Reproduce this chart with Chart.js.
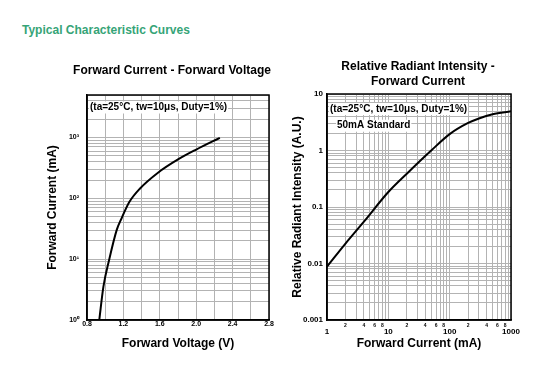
<!DOCTYPE html>
<html><head><meta charset="utf-8">
<script src="https://cdn.jsdelivr.net/npm/chart.js@4.4.1/dist/chart.umd.min.js"></script>
<style>
body{margin:0;background:#fff;width:545px;height:370px;overflow:hidden;position:relative;font-family:'Liberation Sans',Arial,sans-serif}
#h{position:absolute;left:22px;top:23px;font-size:12px;font-weight:bold;color:#36a477;line-height:14px;white-space:nowrap}
#w1{position:absolute;left:0;top:0;width:280px;height:370px}
#w2{position:absolute;left:280px;top:0;width:265px;height:370px}
</style></head><body>
<div id="h">Typical Characteristic Curves</div>
<div id="w1"><canvas id="c1" width="280" height="370"></canvas></div>
<div id="w2"><canvas id="c2" width="265" height="370"></canvas></div>
<script>
// ---- Chart 1: Forward Current vs Forward Voltage ----
const fvVoltage = [0.935, 0.98, 1.045, 1.126, 1.18, 1.265, 1.38, 1.58, 1.80, 2.0, 2.26];
const fvCurrent = [1, 3.5, 10, 30, 47, 87, 144, 264, 436, 634, 990];
const fvXGrid = [0.8, 1.0, 1.2, 1.4, 1.6, 1.8, 2.0, 2.2, 2.4, 2.6, 2.8];
const fvXLabels = ['0.8', '', '1.2', '', '1.6', '', '2.0', '', '2.4', '', '2.8'];
const fvYGrid = [1,2,3,4,5,6,7,8,9,10,20,30,40,50,60,70,80,90,100,200,300,400,500,600,700,800,900,1000,2000,3000,4000,5000];
const fvYLabelValues = [1, 10, 100, 1000];
const fvYLabels = ['10\u2070', '10\u00b9', '10\u00b2', '10\u00b3'];

// ---- Chart 2: Relative Radiant Intensity vs Forward Current ----
const rrCurrent = [1, 2, 4, 10, 20, 50, 100, 200, 300, 500, 1000];
const rrIntensity = [0.0088, 0.0225, 0.055, 0.184, 0.389, 1.0, 1.95, 3.07, 3.69, 4.37, 4.93];
const rrXGrid = [1,2,3,4,5,6,7,8,9,10,20,30,40,50,60,70,80,90,100,200,300,400,500,600,700,800,900,1000];
const rrXLabels = ['1','2','','4','','6','','8','','10','2','','4','','6','','8','','100','2','','4','','6','','8','','1000'];
const rrYGrid = [0.001,0.002,0.003,0.004,0.005,0.006,0.007,0.008,0.009,0.01,0.02,0.03,0.04,0.05,0.06,0.07,0.08,0.09,0.1,0.2,0.3,0.4,0.5,0.6,0.7,0.8,0.9,1,2,3,4,5,6,7,8,9,10];
const rrYLabelValues = [0.001, 0.01, 0.1, 1, 10];
const rrYLabels = ['0.001', '0.01', '0.1', '1', '10'];

const FONT = "'Liberation Sans', Arial, sans-serif";
const GRID = '#b3b3b3';

const panelPlugin = {
  id: 'panel',
  afterDraw(chart, args, o) {
    const ctx = chart.ctx, a = chart.chartArea;
    ctx.save();
    ctx.strokeStyle = '#000'; ctx.lineWidth = 1.5;
    ctx.strokeRect(a.left, a.top, a.right - a.left, a.bottom - a.top);
    ctx.fillStyle = '#000';
    ctx.font = 'bold 12px ' + FONT;
    ctx.textAlign = 'center'; ctx.textBaseline = 'middle';
    const cx = (a.left + a.right) / 2 + o.titleDx;
    o.title.forEach((t, i) => ctx.fillText(t, cx, o.titleY[i]));
    ctx.font = 'bold 10px ' + FONT;
    ctx.textAlign = 'left';
    o.notes.forEach(n => {
      const w = ctx.measureText(n.text).width;
      ctx.fillStyle = '#fff';
      ctx.fillRect(n.x - 1, n.y - 6, w + 2, 12);
      ctx.fillStyle = '#000';
      ctx.fillText(n.text, n.x, n.y);
    });
    ctx.restore();
  }
};

function setTicks(vals) {
  return s => { s.ticks = vals.map(v => ({ value: v })); };
}
function labelFrom(values, labels) {
  return v => {
    const i = values.findIndex(x => Math.abs(x - v) < 1e-9 * Math.max(1, Math.abs(v)) + 1e-12);
    return i >= 0 ? labels[i] : '';
  };
}

new Chart(document.getElementById('c1'), {
  type: 'line',
  data: { datasets: [{
    data: fvVoltage.map((v, i) => ({ x: v, y: fvCurrent[i] })),
    borderColor: '#000', borderWidth: 2, pointRadius: 0,
    cubicInterpolationMode: 'monotone', fill: false
  }]},
  options: {
    responsive: false, animation: false, devicePixelRatio: 1,
    layout: { padding: { left: 40, right: 11, top: 95, bottom: 19 } },
    plugins: {
      legend: { display: false }, tooltip: { enabled: false },
      panel: {
        title: ['Forward Current - Forward Voltage'], titleY: [71], titleDx: -6,
        notes: [{ text: '(ta=25\u00b0C, tw=10\u03bcs, Duty=1%)', x: 90, y: 107.5 }]
      }
    },
    scales: {
      x: {
        type: 'linear', min: 0.8, max: 2.8,
        afterBuildTicks: setTicks(fvXGrid),
        afterFit: s => { s.height = 31; },
        grid: { color: GRID, lineWidth: 1, drawTicks: false },
        border: { display: true, color: '#000', width: 1.5 },
        ticks: {
          autoSkip: false, maxRotation: 0, padding: 0, color: '#000',
          font: { family: FONT, size: 7, weight: 'bold' },
          callback: labelFrom(fvXGrid, fvXLabels)
        },
        title: { display: true, text: 'Forward Voltage (V)', color: '#000',
          font: { family: FONT, size: 12, weight: 'bold' }, padding: { top: 0, bottom: 0 } }
      },
      y: {
        type: 'logarithmic', min: 1, max: 5000,
        afterBuildTicks: setTicks(fvYGrid),
        afterFit: s => { s.width = 47; },
        grid: { color: GRID, lineWidth: 1, drawTicks: false },
        border: { display: true, color: '#000', width: 1.5 },
        ticks: {
          autoSkip: false, padding: 8, color: '#000',
          font: { family: FONT, size: 7, weight: 'bold' },
          callback: labelFrom(fvYLabelValues, fvYLabels)
        },
        title: { display: true, text: 'Forward Current (mA)', color: '#000',
          font: { family: FONT, size: 12, weight: 'bold' }, padding: { top: 5, bottom: 0 } }
      }
    }
  },
  plugins: [panelPlugin]
});

new Chart(document.getElementById('c2'), {
  type: 'line',
  data: { datasets: [{
    data: rrCurrent.map((v, i) => ({ x: v, y: rrIntensity[i] })),
    borderColor: '#000', borderWidth: 2, pointRadius: 0,
    cubicInterpolationMode: 'monotone', fill: false
  }]},
  options: {
    responsive: false, animation: false, devicePixelRatio: 1,
    layout: { padding: { left: 4, right: 34, top: 94, bottom: 19 } },
    plugins: {
      legend: { display: false }, tooltip: { enabled: false },
      panel: {
        title: ['Relative Radiant Intensity -', 'Forward Current'], titleY: [67, 82], titleDx: -1,
        notes: [
          { text: '(ta=25\u00b0C, tw=10\u03bcs, Duty=1%)', x: 50, y: 109 },
          { text: '50mA Standard', x: 57, y: 125.7 }
        ]
      }
    },
    scales: {
      x: {
        type: 'logarithmic', min: 1, max: 1000,
        afterBuildTicks: setTicks(rrXGrid),
        afterFit: s => { s.height = 31; },
        grid: { color: GRID, lineWidth: 1, drawTicks: false },
        border: { display: true, color: '#000', width: 1.5 },
        ticks: {
          autoSkip: false, maxRotation: 0, padding: 3, color: '#000',
          font: c => {
            const v = c.tick ? c.tick.value : 1;
            const dec = [1, 10, 100, 1000].includes(v);
            return dec ? { family: FONT, size: 8, weight: 'bold', lineHeight: 2.25 }
                       : { family: FONT, size: 5, weight: 'bold', lineHeight: 1.2 };
          },
          callback: labelFrom(rrXGrid, rrXLabels)
        },
        title: { display: true, text: 'Forward Current (mA)', color: '#000',
          font: { family: FONT, size: 12, weight: 'bold' }, padding: { top: 0, bottom: 0 } }
      },
      y: {
        type: 'logarithmic', min: 0.001, max: 10,
        afterBuildTicks: setTicks(rrYGrid),
        afterFit: s => { s.width = 43; },
        grid: { color: GRID, lineWidth: 1, drawTicks: false },
        border: { display: true, color: '#000', width: 1.5 },
        ticks: {
          autoSkip: false, padding: 4, color: '#000',
          font: { family: FONT, size: 8, weight: 'bold' },
          callback: labelFrom(rrYLabelValues, rrYLabels)
        },
        title: { display: true, text: 'Relative Radiant Intensity (A.U.)', color: '#000',
          font: { family: FONT, size: 12, weight: 'bold' }, padding: { top: 6, bottom: 0 } }
      }
    }
  },
  plugins: [panelPlugin]
});
</script>
</body></html>
